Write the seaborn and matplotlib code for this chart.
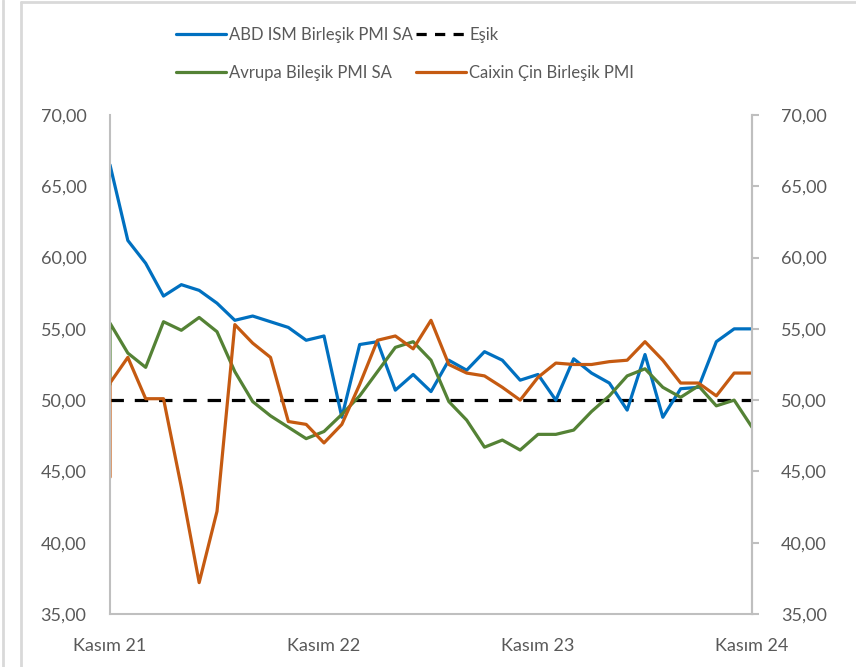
import matplotlib
matplotlib.use("Agg")
import matplotlib.pyplot as plt
import matplotlib.lines as mlines
import seaborn as sns
import pandas as pd
import numpy as np

# ---- data ----
# first entry duplicated month (reference shows a vertical jump at the left edge)
months = ["2021-11"] + [str(p) for p in pd.period_range("2021-11", "2024-11", freq="M")]

abd_ism = [66.5, 66.5, 61.2, 59.6, 57.3, 58.1, 57.7, 56.8, 55.6, 55.9, 55.5, 55.1, 54.2,
           54.5, 48.8, 53.9, 54.1, 50.7, 51.8, 50.6, 52.8, 52.1, 53.4, 52.8, 51.4,
           51.8, 50.0, 52.9, 51.9, 51.2, 49.3, 53.2, 48.8, 50.8, 50.9, 54.1, 55.0, 55.0]
avrupa = [51.1, 55.4, 53.3, 52.3, 55.5, 54.9, 55.8, 54.8, 52.0, 49.9, 48.9, 48.1, 47.3,
          47.8, 49.0, 50.3, 52.0, 53.7, 54.1, 52.8, 49.9, 48.6, 46.7, 47.2, 46.5,
          47.6, 47.6, 47.9, 49.2, 50.3, 51.7, 52.2, 50.9, 50.2, 51.0, 49.6, 50.0, 48.1]
caixin = [44.6, 51.2, 53.0, 50.1, 50.1, 43.9, 37.2, 42.2, 55.3, 54.0, 53.0, 48.5, 48.3,
          47.0, 48.3, 51.1, 54.2, 54.5, 53.6, 55.6, 52.5, 51.9, 51.7, 50.9, 50.0,
          51.6, 52.6, 52.5, 52.5, 52.7, 52.8, 54.1, 52.8, 51.2, 51.2, 50.3, 51.9, 51.9]
esik = 50.0

series_names = ["ABD ISM Birleşik PMI SA", "Avrupa Bileşik PMI SA", "Caixin Çin Birleşik PMI"]
esik_name = "Eşik"
tick_months = ["2021-11", "2022-11", "2023-11", "2024-11"]
tick_labels = ["Kasım 21", "Kasım 22", "Kasım 23", "Kasım 24"]
y_ticks = [35, 40, 45, 50, 55, 60, 65, 70]

colors = {series_names[0]: "#0070C0", series_names[1]: "#548235", series_names[2]: "#C55A11"}

# ---- prep ----
def month_index(m):
    p = pd.Period(m, freq="M")
    base = pd.Period(months[0], freq="M")
    return (p.year - base.year) * 12 + (p.month - base.month)

x_idx = [month_index(m) for m in months]
df = pd.DataFrame({
    "x": x_idx * 3,
    "value": abd_ism + avrupa + caixin,
    "series": [series_names[0]] * len(months) + [series_names[1]] * len(months) + [series_names[2]] * len(months),
})

sns.set_theme(style="white")
plt.rcParams["font.family"] = ["Lato", "DejaVu Sans"]

W, H = 856, 667
fig = plt.figure(figsize=(W / 100, H / 100), dpi=100)
ax = fig.add_axes([110 / W, 1 - 614 / H, (752 - 110) / W, (614 - 115) / H])

sns.lineplot(data=df, x="x", y="value", hue="series", palette=colors,
             estimator=None, sort=False, linewidth=2.3, ax=ax, legend=False)
ax.axhline(esik, color="black", linestyle=(0, (4.2, 3.4)), linewidth=2.3, zorder=1)

xmin = month_index(tick_months[0])
xmax = month_index(tick_months[-1])
ax.set_xlim(xmin, xmax)
ax.set_ylim(y_ticks[0], y_ticks[-1])
ax.set_xticks([month_index(m) for m in tick_months])
ax.set_xticklabels(tick_labels)
ax.set_yticks(y_ticks)
fmt = lambda v: f"{v:.2f}".replace(".", ",")
ax.set_yticklabels([fmt(v) for v in y_ticks])
ax.set_xlabel("")
ax.set_ylabel("")

spine_c = "#bfbfbf"
for s in ["left", "bottom", "right"]:
    ax.spines[s].set_visible(True)
    ax.spines[s].set_color(spine_c)
    ax.spines[s].set_linewidth(1.5)
ax.spines["top"].set_visible(False)

lab_c = "#595959"
ax.tick_params(axis="x", length=0, pad=17, labelsize=13, labelcolor=lab_c)
ax.tick_params(axis="y", left=False, length=0, pad=17, labelsize=13, labelcolor=lab_c)

ax2 = ax.twinx()
ax2.set_ylim(ax.get_ylim())
ax2.set_yticks(y_ticks)
ax2.set_yticklabels([fmt(v) for v in y_ticks])
ax2.tick_params(axis="y", right=True, length=5, width=1.5, color=spine_c, direction="out",
                pad=16, labelsize=13, labelcolor=lab_c)
for s in ["left", "bottom", "top"]:
    ax2.spines[s].set_visible(False)
ax2.spines["right"].set_color(spine_c)
ax2.spines["right"].set_linewidth(1.5)
ax2.grid(False)
ax.grid(False)

# legend
h = [mlines.Line2D([], [], color=colors[series_names[0]], lw=2.3),
     mlines.Line2D([], [], color=colors[series_names[1]], lw=2.3),
     mlines.Line2D([], [], color="black", lw=2.3, linestyle=(0, (3.2, 2.6))),
     mlines.Line2D([], [], color=colors[series_names[2]], lw=2.3)]
labels = [series_names[0], series_names[1], esik_name, series_names[2]]
fig.legend(h, labels, ncol=2, loc="upper left", bbox_to_anchor=(176 / W, 1 - 27 / H),
           frameon=False, fontsize=12, handlelength=3.0, handletextpad=0.2,
           columnspacing=0.15, labelspacing=1.3, borderpad=0, borderaxespad=0,
           labelcolor=lab_c)

# outer chart borders
bc = "#d9d9d9"
fig.add_artist(mlines.Line2D([3 / W, 3 / W], [0, 1], color=bc, lw=2))
fig.add_artist(mlines.Line2D([21 / W, 21 / W], [0, 1 - 2 / H], color=bc, lw=2))
fig.add_artist(mlines.Line2D([21 / W, 1], [1 - 2 / H, 1 - 2 / H], color=bc, lw=2))

fig.savefig("out.png", dpi=100)
